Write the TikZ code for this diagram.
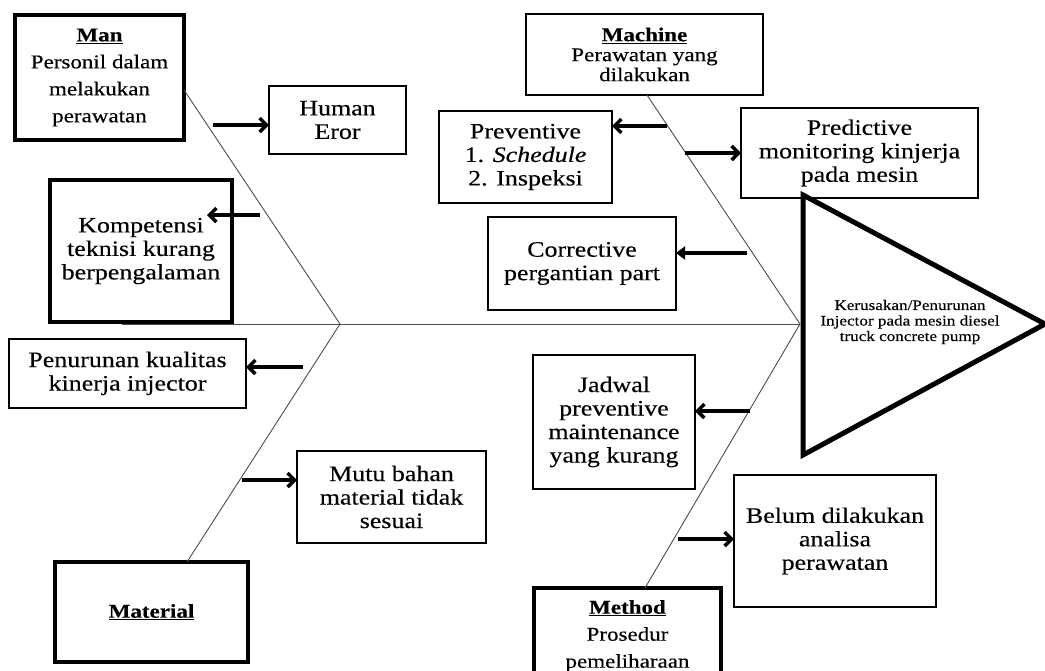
\documentclass[tikz,border=0pt]{standalone}
\usepackage{fontspec}
\setmainfont[FakeStretch=1.18, FakeBold=0.3]{Liberation Serif}
\usetikzlibrary{arrows.meta}

\tikzset{
  cause/.style={draw, line width=2.8pt, align=center, inner sep=0pt, outer sep=0pt,
    font=\fontsize{22}{23.5}\selectfont},
  category/.style={cause, line width=4pt, font=\fontsize{19.5}{27}\selectfont},
  bone/.style={draw=black!70, line width=0.9pt},
  arr/.style={line width=3.5pt, -{Straight Barb[length=7pt,width=14pt]}},
}

\begin{document}
\begin{tikzpicture}[x=1pt,y=-1pt]
\useasboundingbox (0,0) rectangle (1045,670);

% Head (effect)
\draw[line width=5pt, line join=miter] (803,195) -- (1045,324) -- (803,455) -- cycle;
\node[font=\fontsize{14.5}{15.5}\selectfont, align=center] (effect) at (910,322)
    {Kerusakan/Penurunan\\Injector pada mesin diesel\\truck concrete pump};

% Categories
\node[category, minimum width=169, minimum height=125] (man) at (99.5,77.5)
    {\underline{\textbf{Man}}\\Personil dalam\\melakukan\\perawatan};
\node[category, minimum width=193, minimum height=100] (material) at (151.5,612)
    {\underline{\textbf{Material}}};
\node[category, line width=2.6pt, font=\fontsize{19.5}{20}\selectfont,
    minimum width=237, minimum height=81] (machine) at (644.5,54.5)
    {\underline{\textbf{Machine}}\\Perawatan yang\\dilakukan};
\node[category, line width=4.5pt, minimum width=187, minimum height=96] (method) at (627.5,636)
    {\underline{\textbf{Method}}\\Prosedur\\pemeliharaan};

% Causes
\node[cause, minimum width=137, minimum height=68] (human) at (337.5,120) {Human\\Eror};
\node[cause, line width=3.2pt, minimum width=182, minimum height=142] (komp) at (141,251)
    {Kompetensi\\teknisi kurang\\berpengalaman};
\node[cause, minimum width=237, minimum height=69] (turun) at (127.5,373.5)
    {Penurunan kualitas\\kinerja injector};
\node[cause, minimum width=189, minimum height=92] (mutu) at (391.5,497)
    {Mutu bahan\\material tidak\\sesuai};
\node[cause, minimum width=173, minimum height=92] (prev) at (525.5,157)
    {Preventive\\1. \textit{Schedule}\\2. Inspeksi};
\node[cause, minimum width=237, minimum height=90] (pred) at (859.5,153)
    {Predictive\\monitoring kinjerja\\pada mesin};
\node[cause, minimum width=188, minimum height=93] (corr) at (582,263.5)
    {Corrective\\pergantian part};
\node[cause, minimum width=162, minimum height=134] (jadwal) at (614,422)
    {Jadwal\\preventive\\maintenance\\yang kurang};
\node[cause, minimum width=202, minimum height=132] (belum) at (835,541)
    {Belum dilakukan\\analisa\\perawatan};

% Bones
\coordinate (tail) at (122,324);
\coordinate (jl) at (340,324);
\coordinate (jr) at (800,324);
\draw[bone] (tail) -- (jr);
\draw[bone] ([yshift=-12.5pt]man.east) -- (jl) -- ([xshift=35.5pt]material.north);
\draw[bone] ([xshift=2.5pt]machine.south) -- (jr) -- ([xshift=17.5pt]method.north);

% Arrows to the causes
\coordinate (a1) at (213,125);
\coordinate (a2) at (260,215);
\coordinate (a2tip) at (207,215);
\coordinate (a3) at (303,367);
\coordinate (a4) at (242,480);
\draw[arr] (a1) -- (human.west |- a1);
\draw[arr] (a2) -- (a2tip);
\draw[arr] (a3) -- (turun.east |- a3);
\draw[arr] (a4) -- (mutu.west |- a4);

\coordinate (b1) at (667,126);
\coordinate (b2) at (685,153);
\coordinate (b3) at (747,253);
\coordinate (b4) at (750,411);
\coordinate (b5) at (678,539);
\draw[arr] (b1) -- (prev.east |- b1);
\draw[arr] (b2) -- (pred.west |- b2);
\draw[line width=3.5pt, -{Triangle[length=9pt,width=13pt]}] (b3) -- (corr.east |- b3);
\draw[arr] (b4) -- (jadwal.east |- b4);
\draw[arr] (b5) -- (belum.west |- b5);
\end{tikzpicture}
\end{document}
